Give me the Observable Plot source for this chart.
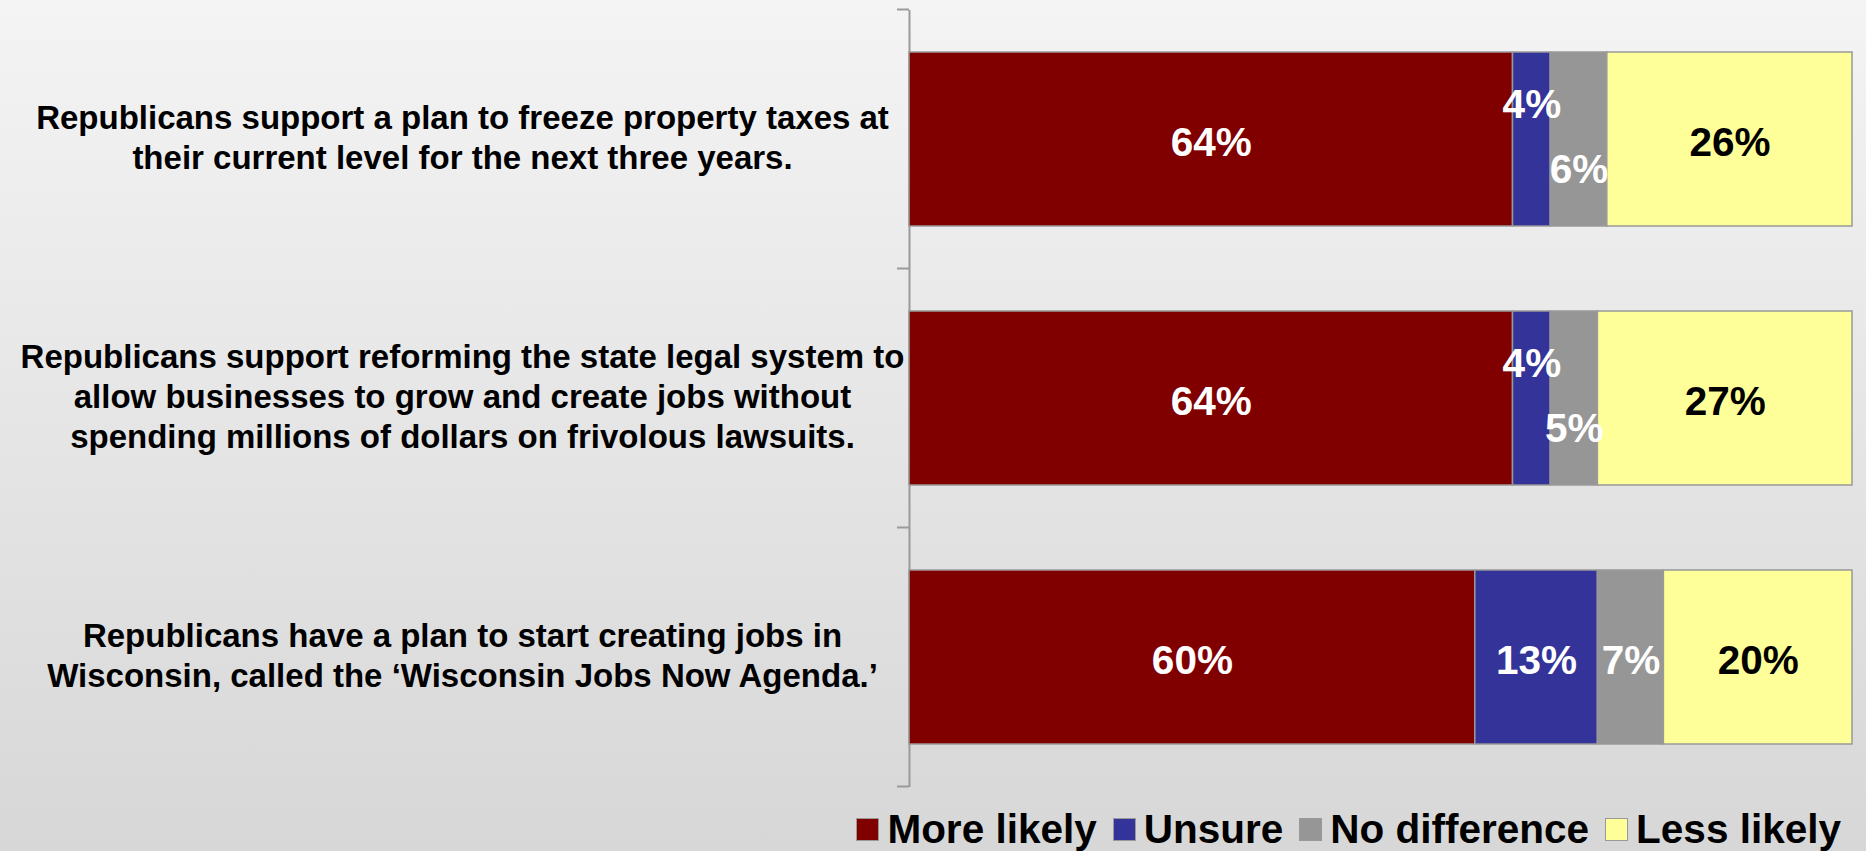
<!DOCTYPE html>
<html><head><meta charset="utf-8">
<script src="https://cdn.jsdelivr.net/npm/d3@7"></script>
<script src="https://cdn.jsdelivr.net/npm/@observablehq/plot@0.6"></script>
<style>
html,body{margin:0;padding:0;width:1866px;height:851px;overflow:hidden;}
body{background:linear-gradient(to bottom,#f4f4f4 0%,#d7d7d7 100%);font-family:"Liberation Sans",Arial,sans-serif;position:relative;}
#chart{position:absolute;left:0;top:0;}
#legend{position:absolute;top:807px;right:25px;display:flex;align-items:center;font-weight:bold;font-size:40.5px;color:#000;height:44px;white-space:nowrap;}
.item{display:flex;align-items:center;margin-left:16px;}
.sw{width:21px;height:21px;border:1.5px solid #999;margin-right:8px;}
</style></head><body>
<div id="chart"></div><div id="legend"></div>
<script>
const categories = [
  "Republicans support a plan to freeze property taxes at\ntheir current level for the next three years.",
  "Republicans support reforming the state legal system to\nallow businesses to grow and create jobs without\nspending millions of dollars on frivolous lawsuits.",
  "Republicans have a plan to start creating jobs in\nWisconsin, called the \u2018Wisconsin Jobs Now Agenda.\u2019"
];
const series = ["More likely", "Unsure", "No difference", "Less likely"];
const moreLikely = [64, 64, 60];
const unsure = [4, 4, 13];
const noDifference = [6, 5, 7];
const lessLikely = [26, 27, 20];
const colors = ["#800000", "#333399", "#969696", "#FFFF99"];

const valuesBySeries = [moreLikely, unsure, noDifference, lessLikely];
const rows = [];
series.forEach((s, i) => categories.forEach((c, j) =>
  rows.push({category: c, series: s, value: valuesBySeries[i][j], row: j})));

const crowded = j => unsure[j] < 8;
const isUp = d => d.series === "Unsure" && crowded(d.row);
const isDown = d => d.series === "No difference" && crowded(d.row);
const isDark = d => d.series === "Less likely";

function labels(test, fill, dy) {
  return Plot.text(rows, Plot.filter(test, Plot.stackX({
    x: "value", y: "category", text: d => d.value + "%",
    fill, dy, fontSize: 40.5, fontWeight: "bold", fontFamily: "Liberation Sans, Arial, sans-serif"
  })));
}

const chart = Plot.plot({
  width: 1866,
  height: 800,
  marginLeft: 909,
  marginRight: 14,
  marginTop: 10,
  marginBottom: 13,
  style: {background: "transparent", fontFamily: "Liberation Sans, Arial, sans-serif", overflow: "visible"},
  x: {domain: [0, 100], axis: null},
  y: {domain: categories, axis: null, paddingInner: 0.327, paddingOuter: 0.1635},
  color: {domain: series, range: colors},
  marks: [
    Plot.ruleX([0], {stroke: "#9a9a9a", strokeWidth: 2}),
    Plot.barX(rows, Plot.stackX({x: "value", y: "category", fill: "series", stroke: "#999", strokeWidth: 1.5, inset: 0})),
    labels(d => !isUp(d) && !isDown(d) && !isDark(d), "white", 3.5),
    labels(d => isDark(d), "black", 3.5),
    labels(isUp, "white", -34),
    labels(isDown, "white", 31),
    Plot.text(categories, {x: 0, y: d => d, text: d => d, textAnchor: "middle", dx: -447, dy: -3.5,
      fontSize: 33, fontWeight: "bold", lineHeight: 1.22, fill: "black"})
  ]
});
document.getElementById("chart").appendChild(chart);

// tick marks at band boundaries on the category axis
const ys = chart.scale("y"), xs = chart.scale("x");
const gap = ys.step - ys.bandwidth;
const bounds = categories.map(c => ys.apply(c) - gap / 2);
bounds.push(bounds[bounds.length - 1] + ys.step);
const x0 = xs.apply(0);
d3.select(chart).append("g").selectAll("line").data(bounds).join("line")
  .attr("x1", x0 - 12).attr("x2", x0).attr("y1", d => d).attr("y2", d => d)
  .attr("stroke", "#9a9a9a").attr("stroke-width", 2);

// legend
const legend = d3.select("#legend");
series.forEach((s, i) => {
  const it = legend.append("div").attr("class", "item");
  it.append("div").attr("class", "sw").style("background", colors[i]);
  it.append("span").text(s);
});
</script>
</body></html>
